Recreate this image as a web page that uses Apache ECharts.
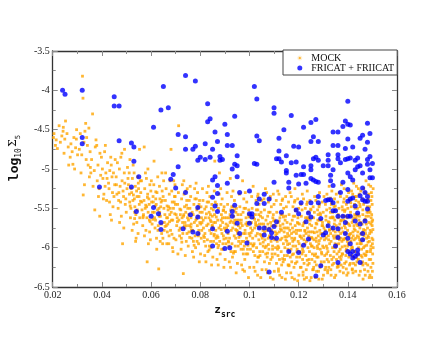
<!DOCTYPE html>
<html>
<head>
<meta charset="utf-8">
<title>mock vs fricat</title>
<style>
  html, body { margin: 0; padding: 0; background: #fff; }
  #chart { width: 447px; height: 338px; }
</style>
</head>
<body>
<div id="chart"></div>
<script src="https://cdn.jsdelivr.net/npm/echarts@6/dist/echarts.min.js"></script>
<script>
// axis ranges
var zRange = [0.02, 0.16];
var sigmaRange = [-6.5, -3.5];

// orange cloud (MOCK), [z_src, log10 Sigma_5], read slice by slice
var mockPoints = [
  [0.0203,-4.60],[0.0214,-4.63],[0.0226,-4.45],[0.0211,-4.70],[0.0237,-4.58],[0.0242,-4.52],[0.0231,-4.66],[0.0219,-4.74],[0.0246,-4.80],[0.0249,-4.62],[0.0205,-4.55],[0.0243,-4.47],
  [0.0252,-4.39],[0.0263,-4.72],[0.0258,-4.55],[0.0274,-4.68],[0.0271,-4.85],[0.0286,-4.60],[0.0282,-4.94],[0.0293,-4.73],[0.0297,-4.50],[0.0265,-4.95],[0.0279,-4.78],[0.0301,-4.82],[0.0296,-4.62],[0.0289,-5.00],
  [0.0321,-3.82],[0.0323,-4.10],[0.0334,-4.42],[0.0312,-4.55],[0.0308,-4.75],[0.0327,-4.66],[0.0336,-4.88],[0.0331,-4.52],[0.0344,-4.95],[0.0341,-4.70],[0.0315,-5.05],[0.0318,-4.82],[0.0347,-4.48],[0.0352,-4.78],[0.0349,-5.10],[0.0329,-5.20],[0.0324,-5.33],[0.0338,-4.60],
  [0.0362,-4.30],[0.0358,-4.88],[0.0373,-4.72],[0.0369,-5.02],[0.0384,-4.95],[0.0381,-5.15],[0.0392,-4.80],[0.0395,-5.08],[0.0364,-5.22],[0.0376,-4.63],[0.0402,-5.00],[0.0398,-4.85],[0.0386,-5.35],[0.0389,-5.25],[0.0355,-5.05],[0.0353,-4.98],[0.0379,-4.70],[0.0371,-5.52],[0.0404,-5.12],[0.0391,-5.60],
  [0.0411,-4.78],[0.0416,-5.05],[0.0408,-5.32],[0.0423,-4.92],[0.0427,-5.18],[0.0419,-5.40],[0.0432,-5.02],[0.0436,-4.85],[0.0429,-5.25],[0.0441,-5.10],[0.0445,-5.48],[0.0438,-4.95],[0.0452,-5.20],[0.0449,-5.35],[0.0447,-5.05],[0.0414,-4.70],[0.0434,-5.58],[0.0421,-5.12],[0.0443,-5.30],[0.0406,-5.38],[0.0454,-4.88],[0.0431,-5.42],[0.0413,-5.22],[0.0439,-5.65],
  [0.0458,-5.10],[0.0463,-4.92],[0.0461,-5.32],[0.0466,-5.50],[0.0471,-5.00],[0.0474,-5.22],[0.0468,-5.40],[0.0477,-4.85],[0.0482,-5.15],[0.0486,-5.28],[0.0479,-5.60],[0.0484,-5.95],[0.0491,-5.05],[0.0488,-5.35],[0.0495,-5.45],[0.0493,-5.18],[0.0502,-5.25],[0.0499,-5.55],[0.0504,-4.98],[0.0497,-5.38],[0.0459,-5.20],[0.0472,-5.68],[0.0481,-4.80],[0.0489,-5.75],[0.0506,-5.12],[0.0476,-5.42],[0.0469,-5.30],[0.0492,-4.75],
  [0.0508,-5.20],[0.0513,-5.42],[0.0511,-5.05],[0.0516,-5.62],[0.0521,-5.30],[0.0524,-5.12],[0.0518,-5.50],[0.0527,-4.95],[0.0532,-5.38],[0.0536,-5.22],[0.0529,-5.70],[0.0534,-5.48],[0.0541,-5.28],[0.0538,-5.58],[0.0545,-5.10],[0.0543,-5.35],[0.0552,-5.45],[0.0549,-5.25],[0.0554,-5.62],[0.0547,-5.82],[0.0512,-5.32],[0.0523,-5.78],[0.0531,-5.05],[0.0539,-5.88],[0.0556,-5.15],[0.0526,-5.40],[0.0533,-5.55],[0.0514,-4.88],[0.0542,-5.68],[0.0551,-5.35],[0.0537,-5.92],[0.0519,-5.25],
  [0.0558,-5.30],[0.0563,-5.52],[0.0561,-5.15],[0.0566,-5.72],[0.0571,-5.40],[0.0574,-5.25],[0.0568,-5.60],[0.0577,-5.05],[0.0582,-5.48],[0.0586,-5.32],[0.0579,-5.78],[0.0584,-6.18],[0.0591,-5.38],[0.0588,-5.55],[0.0595,-5.20],[0.0593,-5.65],[0.0602,-5.42],[0.0599,-5.28],[0.0604,-5.70],[0.0597,-5.90],[0.0562,-5.42],[0.0573,-5.85],[0.0581,-5.12],[0.0589,-5.95],[0.0606,-5.55],[0.0567,-5.62],[0.0576,-5.50],[0.0583,-5.62],[0.0592,-5.45],[0.0601,-5.15],[0.0587,-5.00],[0.0572,-4.72],[0.0553,-4.75],[0.0594,-5.80],
  [0.0608,-5.35],[0.0613,-5.55],[0.0611,-5.20],[0.0616,-5.75],[0.0612,-4.90],[0.0621,-5.45],[0.0624,-5.30],[0.0618,-5.65],[0.0627,-5.10],[0.0622,-5.88],[0.0632,-5.50],[0.0636,-5.38],[0.0629,-5.72],[0.0631,-6.27],[0.0634,-5.22],[0.0641,-5.42],[0.0638,-5.60],[0.0645,-5.28],[0.0643,-5.82],[0.0652,-5.50],[0.0649,-5.35],[0.0654,-5.68],[0.0647,-5.95],[0.0651,-5.15],[0.0614,-5.62],[0.0626,-5.52],[0.0633,-5.60],[0.0639,-5.48],[0.0656,-5.58],[0.0623,-6.02],[0.0644,-5.05],[0.0637,-5.92],[0.0609,-5.42],[0.0653,-5.78],[0.0619,-5.38],[0.0642,-5.70],
  [0.0658,-5.40],[0.0663,-5.62],[0.0661,-5.25],[0.0666,-5.80],[0.0669,-5.52],[0.0671,-5.48],[0.0674,-5.32],[0.0668,-5.70],[0.0677,-5.15],[0.0672,-5.95],[0.0682,-5.55],[0.0686,-5.42],[0.0679,-5.78],[0.0681,-4.75],[0.0684,-5.28],[0.0691,-5.50],[0.0688,-5.65],[0.0695,-5.35],[0.0693,-5.88],[0.0689,-6.05],[0.0702,-5.58],[0.0699,-5.45],[0.0704,-5.72],[0.0697,-5.20],[0.0701,-5.90],[0.0662,-5.72],[0.0676,-5.58],[0.0683,-5.65],[0.0694,-5.42],[0.0706,-5.62],[0.0659,-5.05],[0.0687,-6.00],[0.0673,-5.85],[0.0692,-5.15],[0.0698,-5.35],[0.0678,-5.50],[0.0667,-5.62],[0.0664,-5.95],
  [0.0708,-5.45],[0.0713,-5.65],[0.0711,-5.30],[0.0716,-5.85],[0.0712,-4.45],[0.0719,-5.58],[0.0721,-5.52],[0.0724,-5.38],[0.0718,-5.75],[0.0727,-5.20],[0.0722,-6.02],[0.0726,-5.62],[0.0732,-5.60],[0.0736,-5.48],[0.0729,-5.82],[0.0731,-6.33],[0.0734,-5.32],[0.0738,-5.68],[0.0741,-5.55],[0.0744,-5.72],[0.0745,-5.40],[0.0743,-5.92],[0.0739,-6.10],[0.0748,-5.62],[0.0752,-5.65],[0.0749,-5.50],[0.0754,-5.80],[0.0747,-5.25],[0.0751,-5.98],[0.0756,-5.72],[0.0714,-5.78],[0.0723,-5.88],[0.0733,-5.15],[0.0742,-5.28],[0.0755,-5.40],[0.0728,-5.68],[0.0737,-5.75],[0.0746,-5.82],[0.0709,-6.08],[0.0753,-5.58],
  [0.0758,-5.50],[0.0763,-5.70],[0.0761,-5.35],[0.0766,-5.88],[0.0762,-5.62],[0.0768,-6.05],[0.0771,-5.58],[0.0774,-5.45],[0.0769,-5.78],[0.0777,-5.25],[0.0773,-6.12],[0.0776,-5.68],[0.0782,-5.65],[0.0786,-5.52],[0.0779,-5.85],[0.0784,-5.38],[0.0781,-6.00],[0.0788,-5.72],[0.0791,-5.60],[0.0794,-5.78],[0.0795,-5.45],[0.0793,-5.95],[0.0789,-5.30],[0.0798,-5.68],[0.0802,-5.70],[0.0799,-5.55],[0.0804,-5.88],[0.0797,-5.40],[0.0801,-6.08],[0.0806,-5.78],[0.0764,-5.78],[0.0772,-5.92],[0.0783,-5.18],[0.0792,-5.85],[0.0805,-5.62],[0.0778,-5.38],[0.0787,-5.92],[0.0796,-6.18],[0.0759,-5.22],[0.0803,-5.48],
  [0.0808,-5.55],[0.0813,-5.75],[0.0811,-5.40],[0.0816,-5.92],[0.0812,-5.65],[0.0818,-6.10],[0.0821,-5.62],[0.0824,-5.48],[0.0819,-5.82],[0.0827,-5.30],[0.0823,-6.18],[0.0826,-5.72],[0.0832,-5.70],[0.0836,-5.55],[0.0829,-5.90],[0.0834,-5.42],[0.0831,-6.05],[0.0838,-5.78],[0.0841,-5.65],[0.0844,-5.82],[0.0845,-5.50],[0.0843,-6.00],[0.0839,-5.35],[0.0848,-5.72],[0.0852,-5.75],[0.0849,-5.60],[0.0854,-5.92],[0.0847,-5.45],[0.0851,-6.12],[0.0856,-5.85],[0.0814,-5.85],[0.0822,-5.98],[0.0833,-5.22],[0.0842,-5.92],[0.0855,-5.68],[0.0828,-5.42],[0.0837,-5.98],[0.0846,-6.22],[0.0809,-5.25],[0.0853,-5.52],[0.0835,-5.62],[0.0841,-5.58],
  [0.0858,-5.58],[0.0863,-5.78],[0.0861,-5.42],[0.0866,-5.95],[0.0862,-5.68],[0.0868,-6.15],[0.0859,-4.90],[0.0871,-5.65],[0.0874,-5.50],[0.0869,-5.85],[0.0877,-5.32],[0.0873,-6.22],[0.0876,-5.75],[0.0878,-5.05],[0.0882,-5.72],[0.0886,-5.58],[0.0879,-5.92],[0.0884,-5.45],[0.0881,-6.08],[0.0888,-5.82],[0.0891,-5.68],[0.0894,-5.85],[0.0895,-5.52],[0.0893,-6.02],[0.0889,-5.38],[0.0898,-5.75],[0.0902,-5.78],[0.0899,-5.62],[0.0904,-5.95],[0.0897,-5.48],[0.0901,-6.15],[0.0906,-5.88],[0.0864,-5.88],[0.0872,-6.00],[0.0883,-5.25],[0.0892,-5.95],[0.0905,-5.70],[0.0867,-5.45],[0.0887,-6.02],[0.0896,-6.25],[0.0857,-5.28],[0.0903,-5.55],[0.0885,-5.65],[0.0890,-5.62],
  [0.0908,-5.62],[0.0913,-5.82],[0.0911,-5.45],[0.0916,-5.98],[0.0912,-5.72],[0.0918,-6.18],[0.0921,-5.68],[0.0924,-5.52],[0.0919,-5.88],[0.0927,-5.35],[0.0923,-6.25],[0.0926,-5.78],[0.0922,-5.12],[0.0932,-5.75],[0.0936,-5.60],[0.0929,-5.95],[0.0934,-5.48],[0.0931,-6.12],[0.0938,-5.85],[0.0941,-5.70],[0.0944,-5.88],[0.0945,-5.55],[0.0943,-6.05],[0.0939,-5.40],[0.0948,-5.78],[0.0952,-5.82],[0.0949,-5.65],[0.0954,-5.98],[0.0947,-5.50],[0.0951,-6.20],[0.0956,-5.92],[0.0914,-5.92],[0.0925,-6.05],[0.0933,-5.28],[0.0942,-5.98],[0.0955,-5.72],[0.0928,-5.48],[0.0937,-6.05],[0.0946,-6.32],[0.0909,-5.30],[0.0953,-5.58],[0.0935,-5.68],[0.0940,-5.65],[0.0917,-5.62],
  [0.0958,-5.65],[0.0963,-5.85],[0.0961,-5.48],[0.0966,-6.02],[0.0962,-5.75],[0.0968,-6.22],[0.0971,-5.72],[0.0974,-5.55],[0.0969,-5.92],[0.0977,-5.38],[0.0973,-6.28],[0.0976,-5.82],[0.0972,-5.15],[0.0982,-5.78],[0.0986,-5.62],[0.0979,-5.98],[0.0984,-5.50],[0.0981,-6.15],[0.0988,-5.88],[0.0991,-5.72],[0.0994,-5.92],[0.0995,-5.58],[0.0993,-6.08],[0.0989,-5.42],[0.0998,-5.82],[0.1002,-5.85],[0.0999,-5.68],[0.1004,-6.02],[0.0997,-5.52],[0.1001,-6.25],[0.1006,-5.95],[0.0964,-5.95],[0.0975,-6.08],[0.0983,-5.30],[0.0992,-6.02],[0.1005,-5.75],[0.0978,-5.50],[0.0987,-6.08],[0.0996,-6.38],[0.0959,-5.32],[0.1003,-5.60],[0.0985,-5.70],[0.0990,-5.68],[0.0967,-5.65],[0.0965,-5.58],[0.0980,-6.30],
  [0.1008,-5.68],[0.1013,-5.88],[0.1011,-5.50],[0.1016,-6.05],[0.1012,-5.78],[0.1018,-6.25],[0.1015,-5.22],[0.1021,-5.75],[0.1024,-5.58],[0.1019,-5.95],[0.1027,-5.40],[0.1023,-6.30],[0.1026,-5.85],[0.1032,-5.82],[0.1036,-5.65],[0.1029,-6.00],[0.1034,-5.52],[0.1031,-6.18],[0.1038,-5.90],[0.1033,-5.35],[0.1041,-5.75],[0.1044,-5.95],[0.1045,-5.60],[0.1043,-6.10],[0.1039,-5.45],[0.1048,-5.85],[0.1052,-5.88],[0.1049,-5.70],[0.1054,-6.05],[0.1047,-5.55],[0.1051,-6.28],[0.1056,-5.98],[0.1014,-5.98],[0.1022,-6.10],[0.1035,-5.32],[0.1042,-6.05],[0.1055,-5.78],[0.1028,-5.52],[0.1037,-6.12],[0.1046,-6.38],[0.1009,-5.35],[0.1053,-5.62],[0.1030,-5.72],[0.1040,-5.70],[0.1025,-5.68],[0.1017,-5.62],[0.1033,-6.35],[0.1050,-5.40],
  [0.1058,-5.70],[0.1063,-5.90],[0.1061,-5.52],[0.1066,-6.08],[0.1062,-5.80],[0.1068,-6.28],[0.1065,-5.25],[0.1071,-5.78],[0.1074,-5.60],[0.1069,-5.98],[0.1077,-5.42],[0.1073,-6.32],[0.1076,-5.88],[0.1082,-5.85],[0.1086,-5.68],[0.1079,-6.02],[0.1084,-5.55],[0.1081,-6.20],[0.1088,-5.92],[0.1083,-5.38],[0.1091,-5.78],[0.1094,-5.98],[0.1095,-5.62],[0.1093,-6.12],[0.1089,-5.48],[0.1098,-5.88],[0.1102,-5.90],[0.1099,-5.72],[0.1104,-6.08],[0.1097,-5.58],[0.1101,-6.30],[0.1106,-6.00],[0.1064,-6.00],[0.1072,-6.12],[0.1085,-5.35],[0.1092,-6.08],[0.1105,-5.80],[0.1078,-5.55],[0.1087,-6.15],[0.1096,-6.40],[0.1059,-5.38],[0.1103,-5.65],[0.1080,-5.75],[0.1090,-5.72],[0.1075,-5.70],[0.1067,-5.65],[0.1085,-6.38],[0.1100,-5.45],[0.1070,-5.30],[0.1097,-5.32],
  [0.1108,-5.72],[0.1113,-5.92],[0.1111,-5.55],[0.1116,-6.10],[0.1112,-5.82],[0.1118,-6.30],[0.1115,-5.28],[0.1121,-5.80],[0.1124,-5.62],[0.1119,-6.00],[0.1127,-5.45],[0.1123,-6.35],[0.1126,-5.90],[0.1132,-5.88],[0.1136,-5.70],[0.1129,-6.05],[0.1134,-5.58],[0.1131,-6.22],[0.1138,-5.95],[0.1133,-5.40],[0.1141,-5.80],[0.1144,-6.00],[0.1145,-5.65],[0.1143,-6.15],[0.1139,-5.50],[0.1148,-5.90],[0.1152,-5.92],[0.1149,-5.75],[0.1154,-6.10],[0.1147,-5.60],[0.1151,-6.32],[0.1156,-6.02],[0.1114,-6.02],[0.1122,-6.15],[0.1135,-5.38],[0.1142,-6.10],[0.1155,-5.82],[0.1128,-5.58],[0.1137,-6.18],[0.1146,-6.40],[0.1109,-5.40],[0.1153,-5.68],[0.1130,-5.78],[0.1140,-5.75],[0.1125,-5.72],[0.1117,-5.68],[0.1132,-6.38],[0.1150,-5.48],[0.1120,-5.32],[0.1147,-5.35],[0.1110,-6.20],[0.1157,-6.22],
  [0.1158,-5.75],[0.1163,-5.95],[0.1161,-5.58],[0.1166,-6.12],[0.1162,-5.85],[0.1168,-6.32],[0.1165,-5.30],[0.1171,-5.82],[0.1174,-5.65],[0.1169,-6.02],[0.1177,-5.48],[0.1173,-6.38],[0.1176,-5.92],[0.1182,-5.90],[0.1186,-5.72],[0.1179,-6.08],[0.1184,-5.60],[0.1181,-6.25],[0.1188,-5.98],[0.1183,-5.42],[0.1191,-5.82],[0.1194,-6.02],[0.1195,-5.68],[0.1193,-6.18],[0.1189,-5.52],[0.1198,-5.92],[0.1202,-5.95],[0.1199,-5.78],[0.1204,-6.12],[0.1197,-5.62],[0.1201,-6.35],[0.1206,-6.05],[0.1164,-6.05],[0.1172,-6.18],[0.1185,-5.40],[0.1192,-6.12],[0.1205,-5.85],[0.1178,-5.60],[0.1187,-6.20],[0.1196,-6.42],[0.1159,-5.42],[0.1203,-5.70],[0.1180,-5.80],[0.1190,-5.78],[0.1175,-5.75],[0.1167,-5.70],[0.1183,-6.40],[0.1200,-5.50],[0.1170,-5.35],[0.1196,-5.38],[0.1160,-6.22],[0.1207,-6.25],[0.1185,-5.25],[0.1172,-5.88],
  [0.1208,-5.78],[0.1213,-5.98],[0.1211,-5.60],[0.1216,-6.15],[0.1212,-5.88],[0.1218,-6.35],[0.1215,-5.32],[0.1221,-5.85],[0.1224,-5.68],[0.1219,-6.05],[0.1227,-5.50],[0.1223,-6.40],[0.1226,-5.95],[0.1232,-5.92],[0.1236,-5.75],[0.1229,-6.10],[0.1234,-5.62],[0.1231,-6.28],[0.1238,-6.00],[0.1233,-5.45],[0.1241,-5.85],[0.1244,-6.05],[0.1245,-5.70],[0.1243,-6.20],[0.1239,-5.55],[0.1248,-5.95],[0.1252,-5.98],[0.1249,-5.80],[0.1254,-6.15],[0.1247,-5.65],[0.1251,-6.38],[0.1256,-6.08],[0.1214,-6.08],[0.1222,-6.20],[0.1235,-5.42],[0.1242,-6.15],[0.1255,-5.88],[0.1228,-5.62],[0.1237,-6.22],[0.1246,-6.42],[0.1209,-5.45],[0.1253,-5.72],[0.1230,-5.82],[0.1240,-5.80],[0.1225,-5.78],[0.1217,-5.72],[0.1232,-6.38],[0.1250,-5.52],[0.1220,-5.38],[0.1246,-5.40],[0.1210,-6.25],[0.1257,-6.28],[0.1235,-5.28],[0.1222,-5.90],[0.1241,-5.62],[0.1214,-5.52],
  [0.1258,-5.80],[0.1263,-6.00],[0.1261,-5.62],[0.1266,-6.18],[0.1262,-5.90],[0.1268,-6.38],[0.1265,-5.35],[0.1271,-5.88],[0.1274,-5.70],[0.1269,-6.08],[0.1277,-5.52],[0.1273,-6.30],[0.1276,-5.98],[0.1282,-5.95],[0.1286,-5.78],[0.1279,-6.12],[0.1284,-5.65],[0.1281,-6.30],[0.1288,-6.02],[0.1283,-5.48],[0.1291,-5.88],[0.1294,-6.08],[0.1295,-5.72],[0.1293,-6.22],[0.1289,-5.58],[0.1298,-5.98],[0.1302,-6.00],[0.1299,-5.82],[0.1304,-6.18],[0.1297,-5.68],[0.1301,-6.35],[0.1306,-6.10],[0.1264,-6.10],[0.1272,-6.22],[0.1285,-5.45],[0.1292,-6.18],[0.1305,-5.90],[0.1278,-5.65],[0.1287,-6.25],[0.1296,-6.40],[0.1259,-5.48],[0.1303,-5.75],[0.1280,-5.85],[0.1290,-5.82],[0.1275,-5.80],[0.1267,-5.75],[0.1282,-6.40],[0.1300,-5.55],[0.1270,-5.40],[0.1296,-5.42],[0.1260,-6.28],[0.1307,-6.28],[0.1285,-5.30],[0.1272,-5.92],[0.1291,-5.65],[0.1264,-5.55],[0.1303,-5.35],[0.1279,-5.58],
  [0.1308,-5.78],[0.1313,-5.98],[0.1311,-5.60],[0.1316,-6.15],[0.1312,-5.88],[0.1318,-6.32],[0.1315,-5.32],[0.1321,-5.85],[0.1324,-5.68],[0.1319,-6.05],[0.1327,-5.50],[0.1323,-6.25],[0.1326,-5.95],[0.1332,-5.92],[0.1336,-5.75],[0.1329,-6.10],[0.1334,-5.62],[0.1331,-6.28],[0.1338,-6.00],[0.1333,-5.45],[0.1341,-5.85],[0.1344,-6.05],[0.1345,-5.70],[0.1343,-6.20],[0.1339,-5.55],[0.1348,-5.95],[0.1352,-5.98],[0.1349,-5.80],[0.1354,-6.15],[0.1347,-5.65],[0.1351,-6.35],[0.1356,-6.08],[0.1314,-6.08],[0.1322,-6.18],[0.1335,-5.42],[0.1342,-6.12],[0.1355,-5.88],[0.1328,-5.62],[0.1337,-6.22],[0.1346,-6.38],[0.1309,-5.45],[0.1353,-5.72],[0.1330,-5.82],[0.1340,-5.78],[0.1325,-5.78],[0.1317,-5.72],[0.1332,-6.35],[0.1350,-5.52],[0.1320,-5.38],[0.1346,-5.38],[0.1310,-6.25],[0.1357,-6.25],[0.1335,-5.28],[0.1322,-5.90],[0.1341,-5.62],[0.1314,-5.52],[0.1353,-5.32],[0.1329,-5.55],[0.1324,-5.22],[0.1344,-5.48],[0.1311,-5.65],[0.1350,-6.00],
  [0.1358,-5.75],[0.1363,-5.95],[0.1361,-5.58],[0.1366,-6.12],[0.1362,-5.85],[0.1368,-6.30],[0.1365,-5.30],[0.1371,-5.82],[0.1374,-5.65],[0.1369,-6.02],[0.1377,-5.48],[0.1373,-6.22],[0.1376,-5.92],[0.1382,-5.90],[0.1386,-5.72],[0.1379,-6.08],[0.1384,-5.60],[0.1381,-6.25],[0.1388,-5.98],[0.1383,-5.42],[0.1391,-5.82],[0.1394,-6.02],[0.1395,-5.68],[0.1393,-6.18],[0.1389,-5.52],[0.1398,-5.92],[0.1402,-5.95],[0.1399,-5.78],[0.1404,-6.12],[0.1397,-5.62],[0.1401,-6.32],[0.1406,-6.05],[0.1364,-6.05],[0.1372,-6.15],[0.1385,-5.38],[0.1392,-6.10],[0.1405,-5.85],[0.1378,-5.60],[0.1387,-6.20],[0.1396,-6.35],[0.1359,-5.42],[0.1403,-5.70],[0.1380,-5.80],[0.1390,-5.75],[0.1375,-5.75],[0.1367,-5.70],[0.1382,-6.32],[0.1400,-5.50],[0.1370,-5.35],[0.1396,-5.35],[0.1360,-6.22],[0.1407,-6.22],[0.1385,-5.25],[0.1372,-5.88],[0.1391,-5.60],[0.1364,-5.50],[0.1403,-5.30],[0.1379,-5.52],[0.1374,-5.20],[0.1394,-5.45],[0.1361,-5.62],[0.1400,-5.98],[0.1377,-6.08],[0.1384,-5.65],[0.1389,-5.88],[0.1366,-5.90],
  [0.1408,-5.72],[0.1413,-5.92],[0.1411,-5.55],[0.1416,-6.10],[0.1412,-5.82],[0.1418,-6.28],[0.1415,-5.28],[0.1421,-5.80],[0.1424,-5.62],[0.1419,-6.00],[0.1427,-5.45],[0.1423,-6.20],[0.1426,-5.90],[0.1432,-5.88],[0.1436,-5.70],[0.1429,-6.05],[0.1434,-5.58],[0.1431,-6.22],[0.1438,-5.95],[0.1433,-5.40],[0.1441,-5.80],[0.1444,-6.00],[0.1445,-5.65],[0.1443,-6.15],[0.1439,-5.50],[0.1448,-5.90],[0.1452,-5.92],[0.1449,-5.75],[0.1454,-6.10],[0.1447,-5.60],[0.1451,-6.30],[0.1456,-6.02],[0.1414,-6.02],[0.1422,-6.12],[0.1435,-5.35],[0.1442,-6.08],[0.1455,-5.82],[0.1428,-5.58],[0.1437,-6.18],[0.1446,-6.35],[0.1409,-5.40],[0.1453,-5.68],[0.1430,-5.78],[0.1440,-5.72],[0.1425,-5.72],[0.1417,-5.68],[0.1432,-6.30],[0.1450,-5.48],[0.1420,-5.32],[0.1446,-5.32],[0.1410,-6.20],[0.1457,-6.20],[0.1435,-5.22],[0.1422,-5.85],[0.1441,-5.58],[0.1414,-5.48],[0.1453,-5.28],[0.1429,-5.50],[0.1424,-5.18],[0.1444,-5.42],[0.1411,-5.60],[0.1450,-5.95],[0.1427,-6.05],[0.1434,-5.62],[0.1439,-5.85],[0.1416,-5.88],[0.1421,-6.32],[0.1443,-5.25],
  [0.1458,-5.70],[0.1463,-5.90],[0.1461,-5.52],[0.1466,-6.08],[0.1462,-5.80],[0.1468,-6.28],[0.1465,-5.25],[0.1471,-5.78],[0.1474,-5.60],[0.1469,-5.98],[0.1477,-5.42],[0.1473,-6.20],[0.1476,-5.88],[0.1482,-5.85],[0.1486,-5.68],[0.1479,-6.05],[0.1484,-5.55],[0.1481,-6.22],[0.1488,-5.92],[0.1483,-5.38],[0.1491,-5.78],[0.1494,-5.98],[0.1495,-5.62],[0.1493,-6.15],[0.1489,-5.48],[0.1498,-5.88],[0.1502,-5.90],[0.1499,-5.72],[0.1501,-6.08],[0.1497,-5.58],[0.1500,-6.30],[0.1503,-6.00],[0.1464,-6.00],[0.1472,-6.10],[0.1485,-5.32],[0.1492,-6.05],[0.1496,-5.80],[0.1478,-5.55],[0.1487,-6.15],[0.1490,-6.35],[0.1459,-5.38],[0.1501,-5.65],[0.1480,-5.75],[0.1494,-5.70],[0.1475,-5.70],[0.1467,-5.65],[0.1482,-6.30],[0.1499,-5.45],[0.1470,-5.30],[0.1496,-5.30],[0.1460,-6.18],[0.1502,-6.20],[0.1485,-5.20],[0.1472,-5.82],[0.1491,-5.55],[0.1464,-5.45],[0.1503,-5.25],[0.1479,-5.48],[0.1474,-5.15],[0.1494,-5.40],[0.1461,-5.58],[0.1500,-5.95],[0.1477,-6.05],[0.1484,-5.60],[0.1489,-5.82],[0.1466,-5.85],[0.1471,-6.35],[0.1493,-5.22],[0.1498,-5.35],[0.1487,-6.38],[0.1462,-6.40],[0.1497,-6.38],
  // denser core of the band
  [0.0515,-5.47],[0.0528,-5.33],[0.0544,-5.52],[0.0557,-5.41],[0.0569,-5.58],[0.0585,-5.36],[0.0596,-5.67],[0.0533,-5.63],[0.0548,-5.18],[0.0578,-5.46],
  [0.0607,-5.64],[0.0617,-5.47],[0.0628,-5.78],[0.0635,-5.55],[0.0646,-5.40],[0.0657,-5.73],[0.0665,-5.47],[0.0675,-5.67],[0.0685,-5.83],[0.0696,-5.57],[0.0648,-5.88],[0.0619,-5.29],
  [0.0707,-5.67],[0.0717,-5.51],[0.0725,-5.93],[0.0735,-5.72],[0.0744,-5.46],[0.0757,-5.87],[0.0767,-5.55],[0.0775,-5.97],[0.0785,-5.63],[0.0795,-5.82],[0.0733,-5.58],[0.0762,-5.74],[0.0791,-5.49],
  [0.0807,-5.68],[0.0817,-5.87],[0.0825,-5.57],[0.0836,-6.03],[0.0844,-5.67],[0.0857,-5.83],[0.0865,-5.61],[0.0875,-5.97],[0.0885,-5.77],[0.0896,-5.89],[0.0818,-5.51],[0.0849,-5.72],[0.0872,-5.87],[0.0893,-5.53],
  [0.0907,-5.75],[0.0915,-5.93],[0.0925,-5.66],[0.0935,-6.07],[0.0944,-5.77],[0.0957,-5.87],[0.0966,-5.69],[0.0975,-6.02],[0.0983,-5.82],[0.0994,-5.97],[0.0921,-5.58],[0.0951,-5.79],[0.0977,-5.92],[0.0998,-5.61],[0.0938,-5.52],
  [0.1007,-5.81],[0.1016,-5.97],[0.1025,-5.71],[0.1034,-6.12],[0.1043,-5.83],[0.1056,-5.93],[0.1064,-5.74],[0.1074,-6.07],[0.1083,-5.86],[0.1094,-6.02],[0.1021,-5.64],[0.1051,-5.84],[0.1077,-5.96],[0.1098,-5.66],[0.1038,-5.58],[0.1061,-6.18],
  [0.1107,-5.84],[0.1116,-5.98],[0.1126,-5.76],[0.1135,-6.14],[0.1144,-5.86],[0.1155,-5.96],[0.1164,-5.78],[0.1174,-6.09],[0.1184,-5.88],[0.1193,-6.05],[0.1121,-5.66],[0.1152,-5.86],[0.1177,-5.98],[0.1198,-5.69],[0.1138,-5.61],[0.1161,-6.23],[0.1118,-6.27],[0.1187,-5.53],
  [0.1207,-5.86],[0.1216,-6.02],[0.1226,-5.79],[0.1235,-6.16],[0.1244,-5.89],[0.1255,-5.98],[0.1264,-5.81],[0.1274,-6.12],[0.1284,-5.91],[0.1293,-6.06],[0.1221,-5.69],[0.1252,-5.87],[0.1277,-6.01],[0.1298,-5.72],[0.1238,-5.64],[0.1261,-6.25],[0.1218,-6.31],[0.1287,-5.56],[0.1249,-5.51],[0.1271,-5.69],
  [0.1307,-5.85],[0.1316,-6.01],[0.1326,-5.77],[0.1335,-6.15],[0.1344,-5.88],[0.1355,-5.96],[0.1364,-5.79],[0.1374,-6.11],[0.1384,-5.89],[0.1393,-6.04],[0.1321,-5.67],[0.1352,-5.85],[0.1377,-5.99],[0.1398,-5.69],[0.1338,-5.61],[0.1361,-6.24],[0.1318,-6.29],[0.1387,-5.54],[0.1349,-5.47],[0.1371,-5.66],[0.1329,-5.37],[0.1394,-6.27],
  [0.1407,-5.83],[0.1416,-5.99],[0.1426,-5.76],[0.1435,-6.13],[0.1444,-5.87],[0.1455,-5.95],[0.1464,-5.77],[0.1474,-6.09],[0.1484,-5.87],[0.1493,-6.02],[0.1421,-5.65],[0.1452,-5.83],[0.1477,-5.97],[0.1498,-5.67],[0.1438,-5.59],[0.1461,-6.22],[0.1418,-6.27],[0.1487,-5.52],[0.1449,-5.45],[0.1471,-5.64],[0.1429,-5.35],[0.1494,-6.25],[0.1412,-5.43],[0.1482,-5.93],[0.1458,-6.12],[0.1502,-5.77]
];

// blue catalogue sources (FRICAT + FRIICAT)
var catPoints = [
  [0.024,-4.00],[0.025,-4.05],[0.032,-4.00],[0.032,-4.60],[0.032,-4.68],[0.039,-5.23],[0.045,-4.08],[0.045,-4.20],[0.047,-4.20],[0.047,-4.64],
  [0.052,-4.67],[0.053,-4.72],[0.053,-4.90],[0.055,-5.10],[0.052,-5.23],[0.054,-5.54],[0.061,-4.47],[0.064,-4.25],[0.065,-3.95],[0.067,-4.22],
  [0.061,-5.49],[0.060,-5.60],[0.063,-5.57],[0.064,-5.68],[0.064,-5.77],[0.068,-5.13],[0.069,-5.07],[0.070,-5.24],[0.071,-4.97],[0.071,-4.56],
  [0.074,-3.81],[0.074,-4.59],[0.074,-4.75],[0.074,-5.30],[0.073,-5.76],[0.076,-5.58],[0.077,-4.75],[0.078,-4.71],[0.078,-3.88],[0.077,-5.80],
  [0.079,-4.89],[0.080,-4.85],[0.079,-5.49],[0.079,-5.61],[0.079,-5.82],[0.082,-4.68],[0.083,-4.17],[0.083,-4.40],[0.084,-4.36],[0.082,-4.88],
  [0.084,-4.85],[0.085,-4.75],[0.085,-5.14],[0.086,-4.53],[0.086,-5.10],[0.085,-5.36],[0.087,-4.65],[0.087,-5.21],[0.087,-5.31],[0.086,-5.47],
  [0.087,-5.54],[0.085,-5.76],[0.085,-5.98],[0.088,-4.84],[0.088,-4.89],[0.089,-4.88],[0.090,-4.43],[0.091,-4.56],[0.091,-4.70],[0.091,-5.18],
  [0.093,-4.70],[0.094,-4.33],[0.094,-4.94],[0.095,-4.96],[0.095,-4.83],[0.095,-5.10],[0.093,-5.00],[0.093,-5.54],[0.093,-5.60],[0.094,-5.46],
  [0.091,-5.79],[0.090,-6.01],[0.092,-6.00],[0.095,-5.69],[0.096,-5.30],[0.096,-5.82],[0.099,-5.94],[0.100,-5.28],[0.100,-5.57],[0.100,-5.69],
  [0.101,-5.57],[0.101,-5.61],[0.102,-3.95],[0.103,-4.11],[0.102,-4.93],[0.103,-4.94],[0.103,-4.58],[0.104,-4.64],[0.103,-5.44],[0.104,-5.38],
  [0.104,-5.75],[0.106,-5.32],[0.106,-5.44],[0.106,-5.75],[0.106,-5.84],[0.108,-5.38],[0.108,-5.77],[0.109,-5.81],[0.109,-5.87],[0.108,-6.31],
  [0.110,-4.22],[0.110,-4.29],[0.110,-5.17],[0.110,-5.73],[0.111,-5.67],[0.111,-5.88],[0.111,-4.87],[0.112,-4.61],[0.112,-4.77],[0.112,-4.87],
  [0.113,-4.91],[0.113,-5.55],[0.114,-4.50],[0.115,-4.83],[0.115,-5.02],[0.115,-5.05],[0.116,-5.17],[0.116,-5.24],[0.116,-6.05],[0.117,-4.32],
  [0.117,-4.92],[0.118,-4.71],[0.119,-4.91],[0.119,-5.08],[0.120,-4.72],[0.120,-5.19],[0.119,-5.52],[0.120,-5.57],[0.120,-6.06],[0.121,-5.43],
  [0.122,-4.47],[0.122,-4.97],[0.122,-5.07],[0.121,-5.07],[0.122,-5.97],[0.123,-5.18],[0.123,-5.67],[0.124,-5.56],[0.124,-5.89],[0.125,-4.41],
  [0.125,-4.65],[0.126,-4.59],[0.125,-4.96],[0.125,-5.01],[0.125,-5.12],[0.125,-5.43],[0.126,-4.87],[0.126,-5.14],[0.125,-5.61],[0.127,-4.37],
  [0.127,-4.85],[0.127,-5.16],[0.127,-6.36],[0.128,-4.65],[0.128,-4.89],[0.128,-5.17],[0.128,-5.35],[0.128,-5.43],[0.129,-5.63],[0.129,-6.23],
  [0.130,-4.96],[0.130,-5.84],[0.131,-5.40],[0.131,-5.81],[0.132,-4.82],[0.132,-4.89],[0.132,-4.96],[0.132,-5.39],[0.132,-5.72],[0.133,-5.08],
  [0.133,-5.15],[0.133,-5.39],[0.134,-4.53],[0.134,-4.70],[0.134,-5.01],[0.134,-5.21],[0.134,-5.43],[0.134,-5.53],[0.134,-5.75],[0.135,-5.53],
  [0.135,-5.98],[0.136,-4.53],[0.136,-4.70],[0.136,-4.82],[0.136,-4.87],[0.136,-5.60],[0.136,-5.76],[0.136,-5.87],[0.136,-6.19],[0.137,-5.30],
  [0.137,-4.92],[0.138,-4.46],[0.138,-5.17],[0.138,-5.60],[0.139,-4.39],[0.139,-4.74],[0.139,-4.88],[0.139,-5.68],[0.139,-5.82],[0.140,-4.14],
  [0.140,-4.43],[0.140,-4.62],[0.140,-4.87],[0.140,-5.05],[0.140,-5.26],[0.140,-5.41],[0.140,-5.60],[0.140,-5.88],[0.140,-6.05],[0.141,-4.44],
  [0.141,-4.86],[0.141,-5.10],[0.141,-5.38],[0.141,-5.60],[0.141,-5.95],[0.141,-6.08],[0.142,-4.72],[0.142,-5.14],[0.142,-5.37],[0.142,-6.13],
  [0.142,-6.05],[0.143,-4.89],[0.143,-5.01],[0.143,-5.47],[0.143,-5.66],[0.143,-6.11],[0.144,-4.86],[0.144,-4.97],[0.144,-5.56],[0.144,-6.03],
  [0.144,-6.08],[0.145,-4.61],[0.145,-4.96],[0.145,-5.34],[0.145,-5.70],[0.145,-6.19],[0.146,-4.57],[0.146,-5.05],[0.146,-5.24],[0.146,-5.39],
  [0.146,-5.82],[0.146,-5.90],[0.147,-4.75],[0.147,-5.30],[0.147,-5.41],[0.147,-5.66],[0.148,-4.42],[0.148,-4.66],[0.148,-4.88],[0.148,-4.94],
  [0.148,-5.41],[0.148,-5.51],[0.148,-5.35],[0.149,-4.55],[0.149,-4.84],[0.149,-5.01],[0.149,-5.11],[0.150,-4.93],[0.150,-5.11]
];

var seriesNames = ['MOCK', 'FRICAT + FRIICAT'];

var chart = echarts.init(document.getElementById('chart'), null, { renderer: 'canvas' });

var frameLine = { show: true, onZero: false, lineStyle: { color: '#333', width: 1.3 } };
var tickStyle = { color: '#8a8a8a', width: 1 };
var labelFont = { fontFamily: 'Liberation Serif', fontSize: 10, color: '#222' };

function frameAxis(pos, showLabel, range, step) {
  return {
    type: 'value',
    position: pos,
    min: range[0],
    max: range[1],
    interval: step,
    axisLine: frameLine,
    axisTick: { show: true, inside: true, length: 5, lineStyle: tickStyle },
    minorTick: { show: true, splitNumber: 2, length: 3, lineStyle: tickStyle },
    splitLine: { show: false },
    axisLabel: Object.assign({ show: showLabel, margin: 3 }, labelFont)
  };
}

var xBottom = frameAxis('bottom', true, zRange, 0.02);
xBottom.name = '{z|z}{s|src}';
xBottom.nameLocation = 'middle';
xBottom.nameGap = 13;
xBottom.nameTextStyle = {
  rich: {
    z: { fontFamily: 'DejaVu Sans Mono', fontWeight: 'bold', fontSize: 11, color: '#111' },
    s: { fontFamily: 'DejaVu Sans Mono', fontWeight: 'bold', fontSize: 8, color: '#111', padding: [9, 0, 0, 0] }
  }
};

var yLeft = frameAxis('left', true, sigmaRange, 0.5);
yLeft.name = '{l|log}{t|10}{g|Σ}{f|5}';
yLeft.nameLocation = 'middle';
yLeft.nameRotate = 90;
yLeft.nameGap = 27;
yLeft.nameTextStyle = {
  padding: [0, 0, 0, 22],
  rich: {
    l: { fontFamily: 'DejaVu Sans Mono', fontWeight: 'bold', fontSize: 13, color: '#111' },
    t: { fontFamily: 'DejaVu Sans Mono', fontSize: 8, color: '#111', padding: [8, 0, 0, 0] },
    g: { fontFamily: 'DejaVu Serif', fontSize: 11, color: '#111', padding: [0, 0, 3, 1] },
    f: { fontFamily: 'DejaVu Sans', fontSize: 7, color: '#111', padding: [7, 0, 0, 0] }
  }
};

var option = {
  backgroundColor: '#fff',
  animation: false,
  grid: { left: 52, top: 51, right: 50, bottom: 51 },
  legend: {
    orient: 'vertical',
    left: 283,
    top: 50,
    itemWidth: 5,
    itemHeight: 5,
    itemGap: 0,
    padding: [3, 3, 2, 13],
    backgroundColor: '#fff',
    borderColor: '#444',
    borderWidth: 1,
    borderRadius: 0,
    icon: 'circle',
    textStyle: { fontFamily: 'Liberation Serif', fontSize: 10, color: '#111', lineHeight: 9, padding: [0, 0, 0, 4] },
    data: [
      { name: seriesNames[0], itemStyle: { borderColor: '#fff', borderWidth: 2.6 } },
      { name: seriesNames[1] }
    ]
  },
  xAxis: [xBottom, frameAxis('top', false, zRange, 0.02)],
  yAxis: [yLeft, frameAxis('right', false, sigmaRange, 0.5)],
  series: [
    {
      name: seriesNames[0],
      type: 'scatter',
      symbol: 'rect',
      symbolSize: 2.8,
      itemStyle: { color: '#ffa500' },
      silent: true,
      data: mockPoints
    },
    {
      name: seriesNames[1],
      type: 'scatter',
      symbol: 'circle',
      symbolSize: 5,
      itemStyle: { color: '#0000ff' },
      silent: true,
      data: catPoints
    }
  ]
};

chart.setOption(option);
</script>
</body>
</html>
